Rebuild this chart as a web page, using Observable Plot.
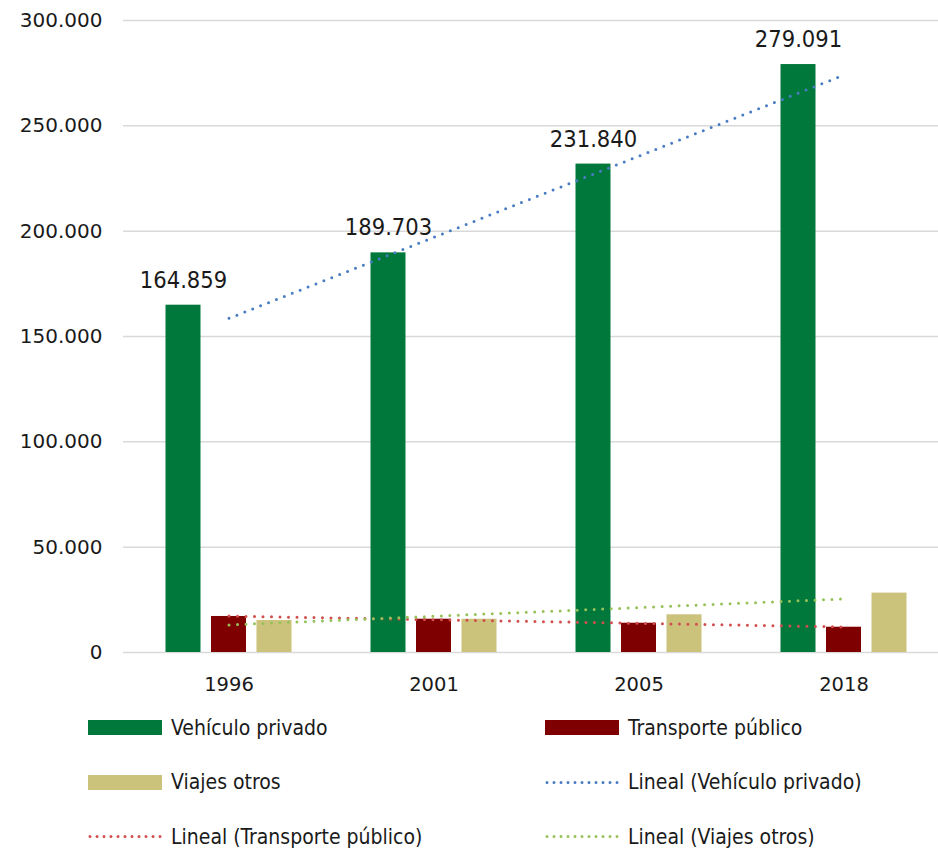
<!DOCTYPE html>
<html>
<head>
<meta charset="utf-8">
<script src="https://cdn.jsdelivr.net/npm/d3@7"></script>
<script src="https://cdn.jsdelivr.net/npm/@observablehq/plot@0.6"></script>
<style>
  body { margin: 0; background: #fff; }
  #chart svg { display: block; }
  .legend { position: relative; width: 938px; height: 150px; font-family: "Liberation Sans Narrow", "Arial Narrow", "DejaVu Sans Condensed", sans-serif; font-size: 21px; color: #1a1a1a; }
  .item { position: absolute; height: 55px; display: flex; align-items: center; white-space: nowrap; }
  .item svg { margin-right: 9px; display: block; }
</style>
</head>
<body>
<div id="chart"></div>
<div class="legend" id="legend"></div>
<script>
const years = ["1996", "2001", "2005", "2018"];
const vehiculoPrivado = [164859, 189703, 231840, 279091];
const transportePublico = [17100, 15800, 13900, 12000];
const viajesOtros = [15200, 15800, 17900, 28200];
const yTicks = [0, 50000, 100000, 150000, 200000, 250000, 300000];
const seriesNames = ["Vehículo privado", "Transporte público", "Viajes otros"];
const barColors = ["#00783c", "#7f0000", "#cbc27b"];
const trendColors = ["#4a7cc4", "#d24e4e", "#97c25a"];

const fmt = d3.formatLocale({decimal: ",", thousands: ".", grouping: [3], currency: ["", "€"]}).format(",d");

const seriesValues = [vehiculoPrivado, transportePublico, viajesOtros];
const tables = seriesValues.map(vals => years.map((y, i) => ({year: y, value: vals[i]})));

// Excel-style linear trend (least squares over category index 1..n)
function linearTrend(vals) {
  const xs = vals.map((_, i) => i + 1);
  const mx = d3.mean(xs), my = d3.mean(vals);
  const b = d3.sum(xs, (x, i) => (x - mx) * (vals[i] - my)) / d3.sum(xs, x => (x - mx) ** 2);
  const a = my - b * mx;
  return years.map((y, i) => ({year: y, value: a + b * xs[i]}));
}
const trends = seriesValues.map(linearTrend);

const offsets = [-45.5, 0, 45.5];
const inset = 85;
const narrow = "'Liberation Sans Narrow', 'Arial Narrow', 'DejaVu Sans Condensed', sans-serif";

const marks = [
  Plot.ruleY(yTicks, {stroke: "#d9d9d9", strokeWidth: 1.5}),
  ...tables.map((t, k) => Plot.barY(t, {x: "year", y: "value", fill: barColors[k], dx: offsets[k], insetLeft: inset, insetRight: inset})),
  ...trends.map((t, k) => Plot.line(t, {x: "year", y: "value", stroke: trendColors[k], strokeWidth: 3, strokeDasharray: "0 8.5", strokeLinecap: "round"})),
  Plot.text(tables[0], {x: "year", y: "value", text: d => fmt(d.value), dx: offsets[0], dy: -25, fontSize: 23.5, fontFamily: narrow, fill: "#1a1a1a"}),
  Plot.axisY(yTicks, {tickFormat: fmt, tickSize: 0, tickPadding: 21, fontSize: 20, fill: "#1a1a1a"}),
  Plot.axisX({tickSize: 0, tickPadding: 25, fontSize: 19.5, fill: "#1a1a1a"})
];

const chart = Plot.plot({
  width: 938,
  height: 700,
  marginTop: 20,
  marginBottom: 48,
  marginLeft: 123,
  marginRight: 0,
  style: {fontFamily: "'DejaVu Sans', sans-serif", fontSize: "20px", color: "#1a1a1a", background: "#fff"},
  x: {domain: years, range: [124, 947], padding: 0, label: null},
  y: {domain: [0, 300000], label: null},
  marks
});
document.getElementById("chart").appendChild(chart);

// Legend
const legendItems = [
  {label: seriesNames[0], color: barColors[0], type: "bar", col: 0, row: 0},
  {label: seriesNames[1], color: barColors[1], type: "bar", col: 1, row: 0},
  {label: seriesNames[2], color: barColors[2], type: "bar", col: 0, row: 1},
  {label: "Lineal (" + seriesNames[0] + ")", color: trendColors[0], type: "line", col: 1, row: 1},
  {label: "Lineal (" + seriesNames[1] + ")", color: trendColors[1], type: "line", col: 0, row: 2},
  {label: "Lineal (" + seriesNames[2] + ")", color: trendColors[2], type: "line", col: 1, row: 2}
];
const colX = [88, 545];
const legend = document.getElementById("legend");
for (const it of legendItems) {
  const div = document.createElement("div");
  div.className = "item";
  div.style.left = colX[it.col] + "px";
  div.style.top = (it.row * 54.5) + "px";
  const sw = it.type === "bar"
    ? `<svg width="74" height="15"><rect width="74" height="15" fill="${it.color}"/></svg>`
    : `<svg width="74" height="15"><line x1="2" x2="73" y1="7.5" y2="7.5" stroke="${it.color}" stroke-width="3" stroke-dasharray="0 7" stroke-linecap="round"/></svg>`;
  div.innerHTML = sw + `<span>${it.label}</span>`;
  legend.appendChild(div);
}
</script>
</body>
</html>
